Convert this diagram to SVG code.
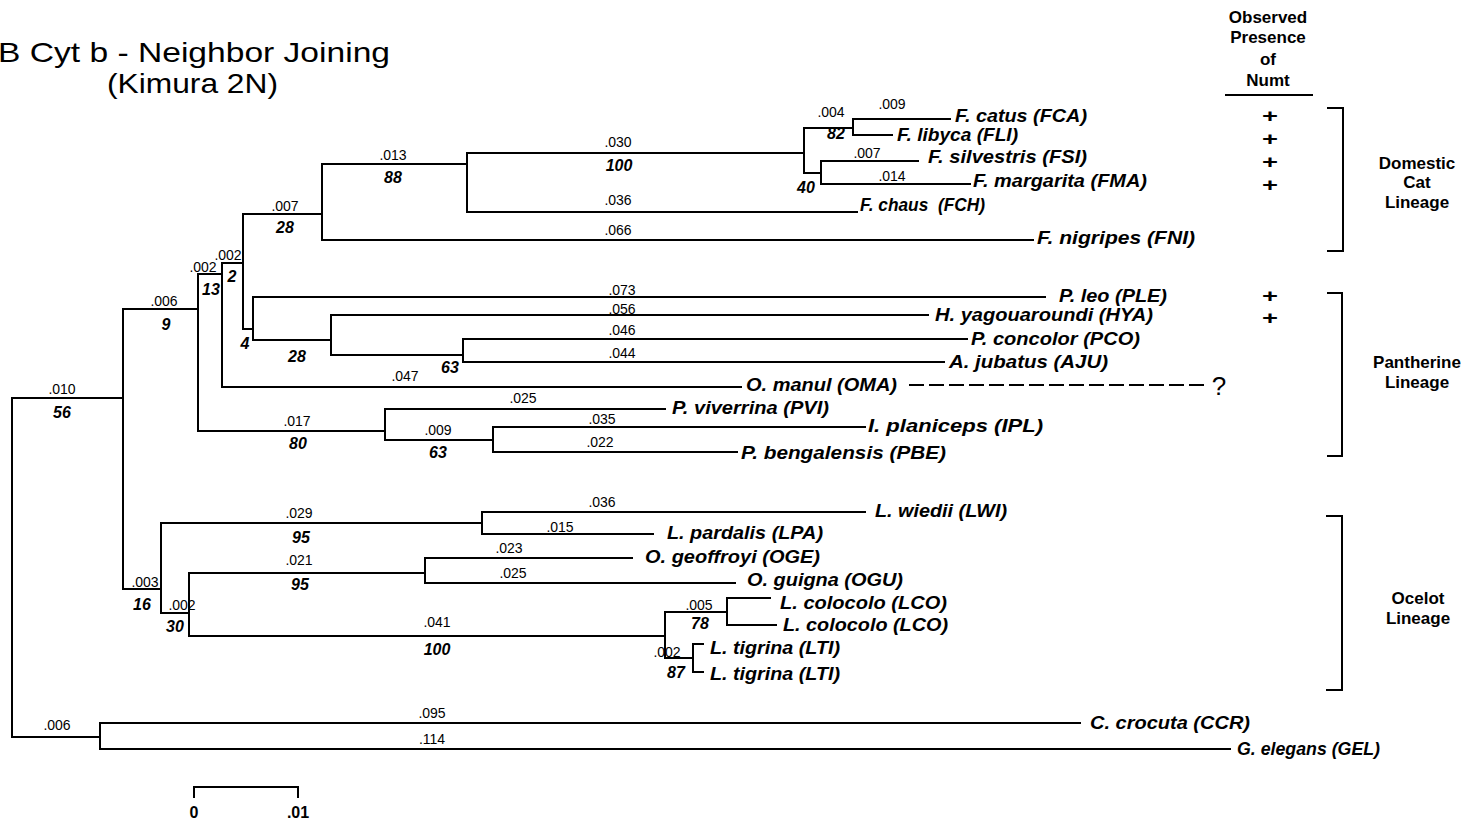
<svg xmlns="http://www.w3.org/2000/svg" width="1471" height="824" viewBox="0 0 1471 824">
<style>
.t{font-family:"Liberation Sans",Arial,sans-serif;fill:#000}
.title{font-size:28px}
.sp{font-size:18px;font-weight:bold;font-style:italic}
.bl{font-size:14px;text-anchor:middle}
.bs{font-size:16px;font-weight:bold;font-style:italic;text-anchor:middle}
.hd{font-size:17px;font-weight:bold;text-anchor:middle}
.pl{font-size:19px;font-weight:bold;text-anchor:middle}
.br{fill:none;stroke:#000;stroke-width:2}
.e{fill:none;stroke:#000;stroke-width:2;stroke-linecap:square}
</style>
<rect width="1471" height="824" fill="#fff"/>
<g id="title">
<text class="t title" x="-2" y="62" textLength="392" lengthAdjust="spacingAndGlyphs">B Cyt b - Neighbor Joining</text>
<text class="t title" x="107" y="93" textLength="171" lengthAdjust="spacingAndGlyphs">(Kimura 2N)</text>
</g>
<g id="connectors">
<path class="e" d="M12,398V737M12,398H123M12,737H100"/>
<path class="e" d="M123,309V589M123,309H198M123,589H161"/>
<path class="e" d="M198,274V431M198,274H222M198,431H385"/>
<path class="e" d="M222,263V387M222,263H243M222,387H741"/>
<path class="e" d="M243,214V329M243,214H322M243,329H253"/>
<path class="e" d="M322,164V240M322,164H467M322,240H1033"/>
<path class="e" d="M467,153V212M467,153H804M467,212H857"/>
<path class="e" d="M804,128V173M804,128H853M804,173H821"/>
<path class="e" d="M853,119V135M853,119H950M853,135H892"/>
<path class="e" d="M821,161V184M821,161H918M821,184H970"/>
<path class="e" d="M253,297V340M253,297H1045M253,340H331"/>
<path class="e" d="M331,315V355M331,315H928M331,355H463"/>
<path class="e" d="M463,339V362M463,339H967M463,362H944"/>
<path class="e" d="M385,409V440M385,409H665M385,440H493"/>
<path class="e" d="M493,427V452M493,427H865M493,452H737"/>
<path class="e" d="M161,523V613M161,523H482M161,613H189"/>
<path class="e" d="M482,512V534M482,512H865M482,534H653"/>
<path class="e" d="M189,573V636M189,573H425M189,636H665"/>
<path class="e" d="M425,558V583M425,558H632M425,583H735"/>
<path class="e" d="M665,612V658M665,612H727M665,658H693"/>
<path class="e" d="M727,598V625M727,598H770M727,625H776"/>
<path class="e" d="M693,644V672M693,644H703M693,672H703"/>
<path class="e" d="M100,723V749M100,723H1080M100,749H1230"/>
<path class="e" d="M910,385H1206" stroke-dasharray="13 7" stroke-linecap="butt"/>
</g>
<g id="branch-labels">
<text class="t bl" x="62" y="394">.010</text>
<text class="t bs" x="62" y="418">56</text>
<text class="t bl" x="164" y="306">.006</text>
<text class="t bs" x="166" y="330">9</text>
<text class="t bl" x="203" y="272">.002</text>
<text class="t bs" x="211" y="295">13</text>
<text class="t bl" x="228" y="260">.002</text>
<text class="t bs" x="232" y="282">2</text>
<text class="t bl" x="285" y="211">.007</text>
<text class="t bs" x="285" y="233">28</text>
<text class="t bl" x="393" y="160">.013</text>
<text class="t bs" x="393" y="183">88</text>
<text class="t bl" x="618" y="147">.030</text>
<text class="t bs" x="619" y="171">100</text>
<text class="t bl" x="618" y="205">.036</text>
<text class="t bl" x="618" y="235">.066</text>
<text class="t bl" x="831" y="117">.004</text>
<text class="t bs" x="836" y="139">82</text>
<text class="t bl" x="892" y="109">.009</text>
<text class="t bl" x="867" y="158">.007</text>
<text class="t bl" x="892" y="181">.014</text>
<text class="t bs" x="806" y="193">40</text>
<text class="t bs" x="245" y="349">4</text>
<text class="t bs" x="297" y="362">28</text>
<text class="t bs" x="450" y="373">63</text>
<text class="t bl" x="622" y="295">.073</text>
<text class="t bl" x="622" y="314">.056</text>
<text class="t bl" x="622" y="335">.046</text>
<text class="t bl" x="622" y="358">.044</text>
<text class="t bl" x="405" y="381">.047</text>
<text class="t bl" x="523" y="403">.025</text>
<text class="t bl" x="297" y="426">.017</text>
<text class="t bs" x="298" y="449">80</text>
<text class="t bl" x="438" y="435">.009</text>
<text class="t bs" x="438" y="458">63</text>
<text class="t bl" x="602" y="424">.035</text>
<text class="t bl" x="600" y="447">.022</text>
<text class="t bl" x="299" y="518">.029</text>
<text class="t bs" x="301" y="543">95</text>
<text class="t bl" x="602" y="507">.036</text>
<text class="t bl" x="560" y="532">.015</text>
<text class="t bl" x="299" y="565">.021</text>
<text class="t bs" x="300" y="590">95</text>
<text class="t bl" x="509" y="553">.023</text>
<text class="t bl" x="513" y="578">.025</text>
<text class="t bl" x="145" y="587">.003</text>
<text class="t bs" x="142" y="610">16</text>
<text class="t bl" x="182" y="610">.002</text>
<text class="t bs" x="175" y="632">30</text>
<text class="t bl" x="437" y="627">.041</text>
<text class="t bs" x="437" y="655">100</text>
<text class="t bl" x="699" y="610">.005</text>
<text class="t bs" x="700" y="629">78</text>
<text class="t bl" x="667" y="657">.002</text>
<text class="t bs" x="676" y="678">87</text>
<text class="t bl" x="57" y="730">.006</text>
<text class="t bl" x="432" y="718">.095</text>
<text class="t bl" x="432" y="744">.114</text>
</g>
<g id="FCA"><text class="t sp" x="955" y="122" textLength="132" lengthAdjust="spacingAndGlyphs">F. catus (FCA)</text></g>
<g id="FLI"><text class="t sp" x="897" y="141" textLength="121" lengthAdjust="spacingAndGlyphs">F. libyca (FLI)</text></g>
<g id="FSI"><text class="t sp" x="928" y="163" textLength="159" lengthAdjust="spacingAndGlyphs">F. silvestris (FSI)</text></g>
<g id="FMA"><text class="t sp" x="973" y="187" textLength="174" lengthAdjust="spacingAndGlyphs">F. margarita (FMA)</text></g>
<g id="FCH"><text class="t sp" x="860" y="211" textLength="125" lengthAdjust="spacingAndGlyphs" xml:space="preserve">F. chaus  (FCH)</text></g>
<g id="FNI"><text class="t sp" x="1037" y="244" textLength="158" lengthAdjust="spacingAndGlyphs">F. nigripes (FNI)</text></g>
<g id="PLE"><text class="t sp" x="1059" y="302" textLength="108" lengthAdjust="spacingAndGlyphs">P. leo (PLE)</text></g>
<g id="HYA"><text class="t sp" x="935" y="321" textLength="218" lengthAdjust="spacingAndGlyphs">H. yagouaroundi (HYA)</text></g>
<g id="PCO"><text class="t sp" x="971" y="345" textLength="169" lengthAdjust="spacingAndGlyphs">P. concolor (PCO)</text></g>
<g id="AJU"><text class="t sp" x="949" y="368" textLength="159" lengthAdjust="spacingAndGlyphs">A. jubatus (AJU)</text></g>
<g id="OMA"><text class="t sp" x="746" y="391" textLength="151" lengthAdjust="spacingAndGlyphs">O. manul (OMA)</text><text class="t" x="1219" y="395" font-size="26" text-anchor="middle">?</text></g>
<g id="PVI"><text class="t sp" x="672" y="414" textLength="157" lengthAdjust="spacingAndGlyphs">P. viverrina (PVI)</text></g>
<g id="IPL"><text class="t sp" x="868" y="432" textLength="175" lengthAdjust="spacingAndGlyphs">I. planiceps (IPL)</text></g>
<g id="PBE"><text class="t sp" x="741" y="459" textLength="205" lengthAdjust="spacingAndGlyphs">P. bengalensis (PBE)</text></g>
<g id="LWI"><text class="t sp" x="875" y="517" textLength="132" lengthAdjust="spacingAndGlyphs">L. wiedii (LWI)</text></g>
<g id="LPA"><text class="t sp" x="667" y="539" textLength="156" lengthAdjust="spacingAndGlyphs">L. pardalis (LPA)</text></g>
<g id="OGE"><text class="t sp" x="645" y="563" textLength="175" lengthAdjust="spacingAndGlyphs">O. geoffroyi (OGE)</text></g>
<g id="OGU"><text class="t sp" x="747" y="586" textLength="156" lengthAdjust="spacingAndGlyphs">O. guigna (OGU)</text></g>
<g id="LCO1"><text class="t sp" x="780" y="609" textLength="167" lengthAdjust="spacingAndGlyphs">L. colocolo (LCO)</text></g>
<g id="LCO2"><text class="t sp" x="783" y="631" textLength="165" lengthAdjust="spacingAndGlyphs">L. colocolo (LCO)</text></g>
<g id="LTI1"><text class="t sp" x="710" y="654" textLength="130" lengthAdjust="spacingAndGlyphs">L. tigrina (LTI)</text></g>
<g id="LTI2"><text class="t sp" x="710" y="680" textLength="130" lengthAdjust="spacingAndGlyphs">L. tigrina (LTI)</text></g>
<g id="CCR"><text class="t sp" x="1090" y="729" textLength="160" lengthAdjust="spacingAndGlyphs">C. crocuta (CCR)</text></g>
<g id="GEL"><text class="t sp" x="1237" y="755" textLength="143" lengthAdjust="spacingAndGlyphs">G. elegans (GEL)</text></g>
<g id="numt-header">
<text class="t hd" x="1268" y="23">Observed</text>
<text class="t hd" x="1268" y="43">Presence</text>
<text class="t hd" x="1268" y="65">of</text>
<text class="t hd" x="1268" y="86">Numt</text>
<path class="br" d="M1225,95H1313"/>
</g>
<g id="numt-marks">
<text class="t pl" x="1270" y="122" textLength="16" lengthAdjust="spacingAndGlyphs">+</text>
<text class="t pl" x="1270" y="145" textLength="16" lengthAdjust="spacingAndGlyphs">+</text>
<text class="t pl" x="1270" y="168" textLength="16" lengthAdjust="spacingAndGlyphs">+</text>
<text class="t pl" x="1270" y="191" textLength="16" lengthAdjust="spacingAndGlyphs">+</text>
<text class="t pl" x="1270" y="302" textLength="16" lengthAdjust="spacingAndGlyphs">+</text>
<text class="t pl" x="1270" y="324" textLength="16" lengthAdjust="spacingAndGlyphs">+</text>
</g>
<g id="domestic-cat-lineage">
<path class="br" d="M1327,108H1343V251H1327"/>
<text class="t hd" x="1417" y="169">Domestic</text>
<text class="t hd" x="1417" y="188">Cat</text>
<text class="t hd" x="1417" y="208">Lineage</text>
</g>
<g id="pantherine-lineage">
<path class="br" d="M1327,293H1342V456H1327"/>
<text class="t hd" x="1417" y="368">Pantherine</text>
<text class="t hd" x="1417" y="388">Lineage</text>
</g>
<g id="ocelot-lineage">
<path class="br" d="M1326,516H1342V690H1326"/>
<text class="t hd" x="1418" y="604">Ocelot</text>
<text class="t hd" x="1418" y="624">Lineage</text>
</g>
<g id="scale-bar">
<path class="br" d="M194,798V787H298V798"/>
<text class="t" x="194" y="818" font-size="16" font-weight="bold" text-anchor="middle">0</text>
<text class="t" x="298" y="818" font-size="16" font-weight="bold" text-anchor="middle">.01</text>
</g>
</svg>
